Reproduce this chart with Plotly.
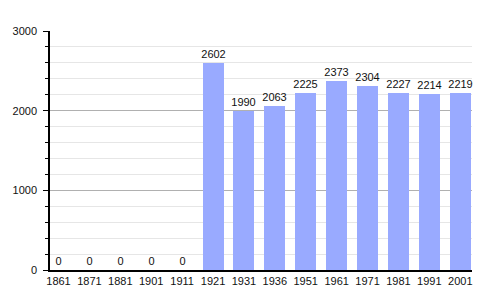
import plotly.graph_objects as go

years = ["1861", "1871", "1881", "1901", "1911", "1921", "1931", "1936",
         "1951", "1961", "1971", "1981", "1991", "2001"]
population = [0, 0, 0, 0, 0, 2602, 1990, 2063, 2225, 2373, 2304, 2227, 2214, 2219]
y_ticks = [0, 1000, 2000, 3000]

idx = list(range(len(years)))

fig = go.Figure()
fig.add_trace(go.Bar(
    x=idx, y=population, width=0.68,
    marker=dict(color="#99aaff", line=dict(width=0)),
    text=[str(v) for v in population], textposition="outside",
    textfont=dict(family="Liberation Sans, Arial, sans-serif", size=11, color="#111111"),
    cliponaxis=False,
))

fig.update_layout(
    width=500, height=300,
    margin=dict(l=50, r=28, t=31, b=30),
    paper_bgcolor="white", plot_bgcolor="white",
    showlegend=False,
    bargap=0,
    uniformtext=dict(minsize=11, mode="show"),
    font=dict(family="Liberation Sans, Arial, sans-serif", size=11, color="#111111"),
)
fig.update_xaxes(
    range=[-0.275, 13.38],
    tickvals=idx, ticktext=years,
    showgrid=False, zeroline=False,
    showline=True, linecolor="#000000", linewidth=1.5,
    ticks="", tickfont=dict(size=11, color="#111111"),
)
fig.update_yaxes(
    range=[0, 3000],
    tickvals=y_ticks,
    showgrid=True, gridcolor="#b0b0b0", gridwidth=1,
    zeroline=False,
    showline=True, linecolor="#000000", linewidth=1.5,
    ticks="outside", ticklen=5, tickcolor="#000000", tickwidth=1,
    ticklabelstandoff=4,
    tickfont=dict(size=11, color="#111111"),
    minor=dict(dtick=200, ticks="outside", ticklen=3, tickcolor="#000000",
               showgrid=True, gridcolor="#e6e6e6", gridwidth=1),
)

fig.write_html("out.html")
